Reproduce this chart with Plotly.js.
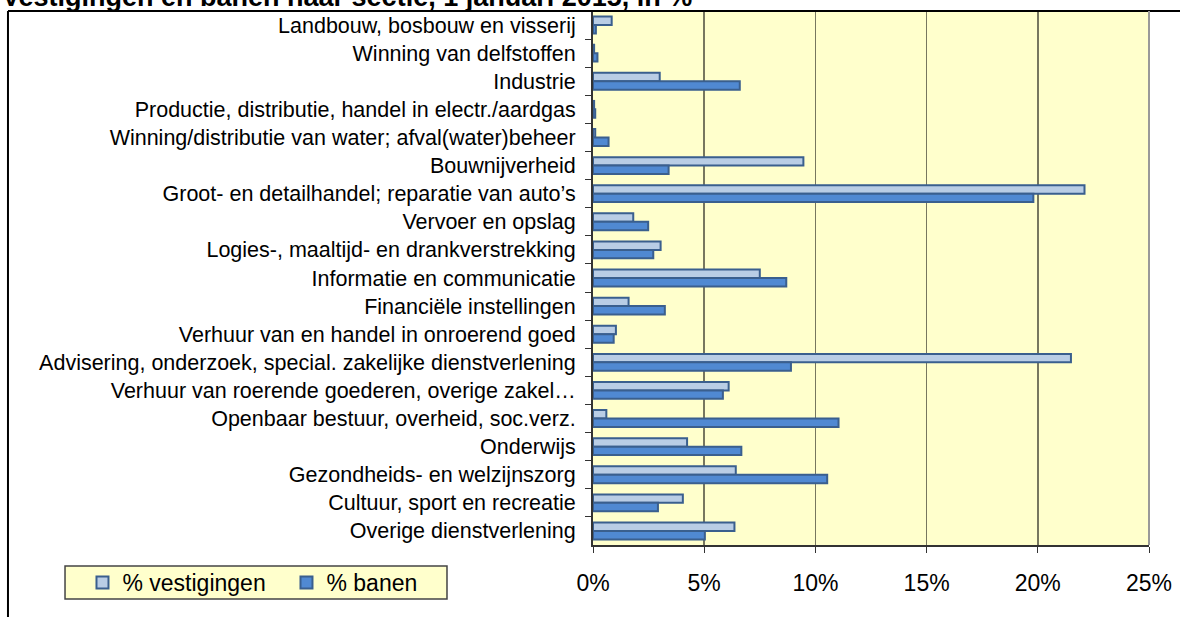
<!DOCTYPE html>
<html>
<head>
<meta charset="utf-8">
<script src="https://cdn.plot.ly/plotly-3.0.1.min.js"></script>
<style>
  body { margin: 0; background: #fff; }
  #chart { width: 1180px; height: 617px; }
</style>
</head>
<body>
<div id="chart"></div>
<script>
// sectors, top to bottom
var sectors = [
  "Landbouw, bosbouw en visserij",
  "Winning van delfstoffen",
  "Industrie",
  "Productie, distributie, handel in electr./aardgas",
  "Winning/distributie van water; afval(water)beheer",
  "Bouwnijverheid",
  "Groot- en detailhandel; reparatie van auto\u2019s",
  "Vervoer en opslag",
  "Logies-, maaltijd- en drankverstrekking",
  "Informatie en communicatie",
  "Financiële instellingen",
  "Verhuur van en handel in onroerend goed",
  "Advisering, onderzoek, special. zakelijke dienstverlening",
  "Verhuur van roerende goederen, overige zakel\u2026",
  "Openbaar bestuur, overheid, soc.verz.",
  "Onderwijs",
  "Gezondheids- en welzijnszorg",
  "Cultuur, sport en recreatie",
  "Overige dienstverlening"
];

// % vestigingen
var vestigingen = [0.84, 0.05, 3.0, 0.05, 0.1, 9.46, 22.1, 1.81, 3.04, 7.5, 1.6, 1.03, 21.49, 6.1, 0.6, 4.23, 6.42, 4.04, 6.36];
// % banen
var banen = [0.13, 0.2, 6.6, 0.1, 0.7, 3.4, 19.8, 2.48, 2.71, 8.69, 3.23, 0.93, 8.9, 5.84, 11.04, 6.67, 10.53, 2.92, 5.03];

var xticks = [0, 5, 10, 15, 20, 25];
var xticklabels = ["0%", "5%", "10%", "15%", "20%", "25%"];

var font = "Liberation Sans, Arial, sans-serif";

var trace1 = {
  type: 'bar',
  orientation: 'h',
  name: '% vestigingen',
  y: sectors,
  x: vestigingen,
  marker: {color: '#b9cde5', line: {color: '#3a5f8e', width: 2}},
  hoverinfo: 'x+y'
};

var trace2 = {
  type: 'bar',
  orientation: 'h',
  name: '% banen',
  y: sectors,
  x: banen,
  marker: {color: '#5089d2', line: {color: '#3a5f8e', width: 2}},
  hoverinfo: 'x+y'
};

var layout = {
  width: 1180,
  height: 617,
  margin: {l: 593, r: 31, t: 11, b: 72},
  paper_bgcolor: '#ffffff',
  plot_bgcolor: '#ffffcc',
  font: {family: font, color: '#000'},
  barmode: 'group',
  bargap: 0.4,
  bargroupgap: 0,
  showlegend: true,
  xaxis: {
    range: [0, 25],
    tickmode: 'array',
    tickvals: xticks,
    ticktext: xticklabels,
    showgrid: true,
    gridcolor: '#77775f',
    gridwidth: 1.5,
    zeroline: false,
    showline: true,
    linecolor: '#333',
    linewidth: 2,
    ticks: 'outside',
    ticklen: 6,
    tickcolor: '#333',
    tickfont: {size: 23, family: font},
    ticklabelstandoff: 10,
    fixedrange: true
  },
  yaxis: {
    type: 'category',
    autorange: 'reversed',
    tickson: 'boundaries',
    ticks: 'outside',
    ticklen: 6,
    tickcolor: '#333',
    showline: true,
    linecolor: '#333',
    linewidth: 2,
    showgrid: false,
    tickfont: {size: 21.5, family: font},
    ticklabelstandoff: 11,
    fixedrange: true
  },
  legend: {
    orientation: 'h',
    x: -0.9182,
    xanchor: 'left',
    y: -0.0702,
    yanchor: 'middle',
    bgcolor: 'rgba(0,0,0,0)',
    borderwidth: 0,
    font: {size: 23, family: font},
    entrywidth: 159,
    traceorder: 'normal'
  },
  shapes: [
    // outer chart frame (left and top)
    {type: 'line', xref: 'paper', yref: 'paper', x0: -1.0522, x1: 1.1, y0: 1, y1: 1, line: {color: '#000', width: 2}},
    {type: 'line', xref: 'paper', yref: 'paper', x0: -1.0522, x1: -1.0522, y0: -0.2, y1: 1, line: {color: '#000', width: 2}},
    // right border of plot area
    {type: 'line', xref: 'paper', yref: 'paper', x0: 1, x1: 1, y0: 0, y1: 1, line: {color: '#999', width: 2}},
    // legend box
    {type: 'rect', xref: 'paper', yref: 'paper', x0: -0.9496, x1: -0.2626, y0: -0.1011, y1: -0.0393,
     fillcolor: '#ffffcc', line: {color: '#444', width: 1.5}}
  ],
  annotations: [{
    xref: 'paper', yref: 'paper',
    x: -1.0665, xanchor: 'left',
    y: 1.026, yanchor: 'middle',
    text: 'Vestigingen en banen naar sectie, 1 januari 2015, in %',
    showarrow: false,
    font: {size: 27, family: font, weight: 'bold', color: '#000'}
  }]
};

Plotly.newPlot('chart', [trace1, trace2], layout, {displayModeBar: false, staticPlot: true});
</script>
</body>
</html>
